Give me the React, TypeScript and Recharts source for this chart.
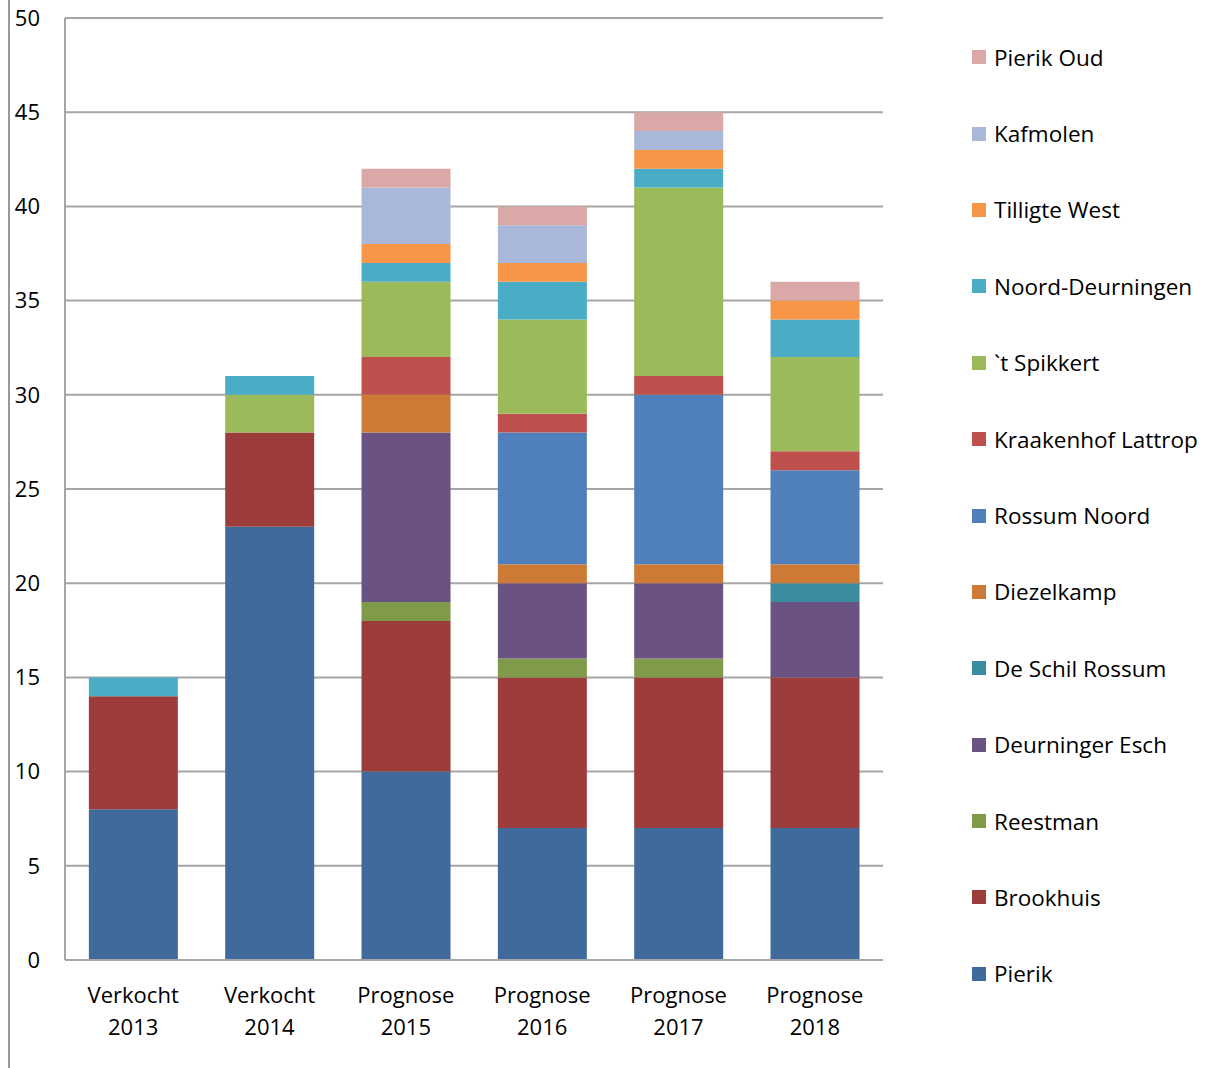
import { Bar, BarChart, CartesianGrid, XAxis, YAxis } from "recharts"

const categories = [
  "Verkocht 2013",
  "Verkocht 2014",
  "Prognose 2015",
  "Prognose 2016",
  "Prognose 2017",
  "Prognose 2018",
]

const pierik = [8, 23, 10, 7, 7, 7]
const brookhuis = [6, 5, 8, 8, 8, 8]
const reestman = [0, 0, 1, 1, 1, 0]
const deurningerEsch = [0, 0, 9, 4, 4, 4]
const deSchilRossum = [0, 0, 0, 0, 0, 1]
const diezelkamp = [0, 0, 2, 1, 1, 1]
const rossumNoord = [0, 0, 0, 7, 9, 5]
const kraakenhofLattrop = [0, 0, 2, 1, 1, 1]
const spikkert = [0, 2, 4, 5, 10, 5]
const noordDeurningen = [1, 1, 1, 2, 1, 2]
const tilligteWest = [0, 0, 1, 1, 1, 1]
const kafmolen = [0, 0, 3, 2, 1, 0]
const pierikOud = [0, 0, 1, 1, 1, 1]

const yTicks = [0, 5, 10, 15, 20, 25, 30, 35, 40, 45, 50]

const series = [
  { key: "pierik", name: "Pierik", values: pierik, color: "#3F6A9B" },
  { key: "brookhuis", name: "Brookhuis", values: brookhuis, color: "#9C3D3B" },
  { key: "reestman", name: "Reestman", values: reestman, color: "#7F9A48" },
  { key: "deurningerEsch", name: "Deurninger Esch", values: deurningerEsch, color: "#6A5283" },
  { key: "deSchilRossum", name: "De Schil Rossum", values: deSchilRossum, color: "#3A8DA0" },
  { key: "diezelkamp", name: "Diezelkamp", values: diezelkamp, color: "#CC7A36" },
  { key: "rossumNoord", name: "Rossum Noord", values: rossumNoord, color: "#4F80BB" },
  { key: "kraakenhofLattrop", name: "Kraakenhof Lattrop", values: kraakenhofLattrop, color: "#C0504D" },
  { key: "spikkert", name: "`t Spikkert", values: spikkert, color: "#9BBA59" },
  { key: "noordDeurningen", name: "Noord-Deurningen", values: noordDeurningen, color: "#4BACC6" },
  { key: "tilligteWest", name: "Tilligte West", values: tilligteWest, color: "#F79646" },
  { key: "kafmolen", name: "Kafmolen", values: kafmolen, color: "#A9B8D8" },
  { key: "pierikOud", name: "Pierik Oud", values: pierikOud, color: "#D9A8A7" },
]

const data = categories.map((cat, i) => {
  const row: Record<string, string | number> = { cat }
  series.forEach((s) => {
    row[s.key] = s.values[i]
  })
  return row
})

const FONT = "'Open Sans', 'Liberation Sans', sans-serif"

function CategoryTick({ x, y, payload }: any) {
  const [first, second] = String(payload.value).split(" ")
  return (
    <text x={x} y={y} textAnchor="middle" fill="#000" fontSize={22} fontFamily={FONT}>
      <tspan x={x} dy={35}>{first}</tspan>
      <tspan x={x} dy={32}>{second}</tspan>
    </text>
  )
}

// legend sits beside the plot, outside recharts' layout
function SideLegend() {
  return (
    <div
      style={{
        position: "absolute",
        left: 972,
        top: 19,
        fontFamily: FONT,
        fontSize: 22.5,
        color: "#000",
      }}
    >
      {[...series].reverse().map((s) => (
        <div key={s.key} style={{ height: 76.4, display: "flex", alignItems: "center" }}>
          <span
            style={{
              width: 14,
              height: 14,
              background: s.color,
              display: "inline-block",
              marginRight: 8,
            }}
          />
          <span>{s.name}</span>
        </div>
      ))}
    </div>
  )
}

export default function App() {
  return (
    <div style={{ position: "absolute", left: 0, top: 0, width: 1215, height: 1068, background: "#fff" }}>
      <div style={{ position: "absolute", left: 8, top: 0, width: 2, height: 1068, background: "#9a9a9a" }} />
      <BarChart
        width={1215}
        height={1068}
        data={data}
        margin={{ top: 18, right: 332, bottom: 28, left: 10 }}
        barCategoryGap="17.5%"
      >
        <CartesianGrid vertical={false} stroke="#A6A6A6" strokeWidth={2} />
        <XAxis
          dataKey="cat"
          height={80}
          interval={0}
          tickLine={false}
          axisLine={{ stroke: "#A6A6A6", strokeWidth: 2 }}
          tick={<CategoryTick />}
        />
        <YAxis
          width={55}
          domain={[0, 50]}
          ticks={yTicks}
          interval={0}
          tickLine={false}
          tickSize={0}
          tickMargin={25}
          axisLine={{ stroke: "#A6A6A6", strokeWidth: 2 }}
          tick={{ fill: "#000", fontSize: 22, fontFamily: FONT }}
        />
        {series.map((s) => (
          <Bar
            key={s.key}
            dataKey={s.key}
            name={s.name}
            stackId="a"
            fill={s.color}
            isAnimationActive={false}
          />
        ))}
      </BarChart>
      <SideLegend />
    </div>
  )
}
